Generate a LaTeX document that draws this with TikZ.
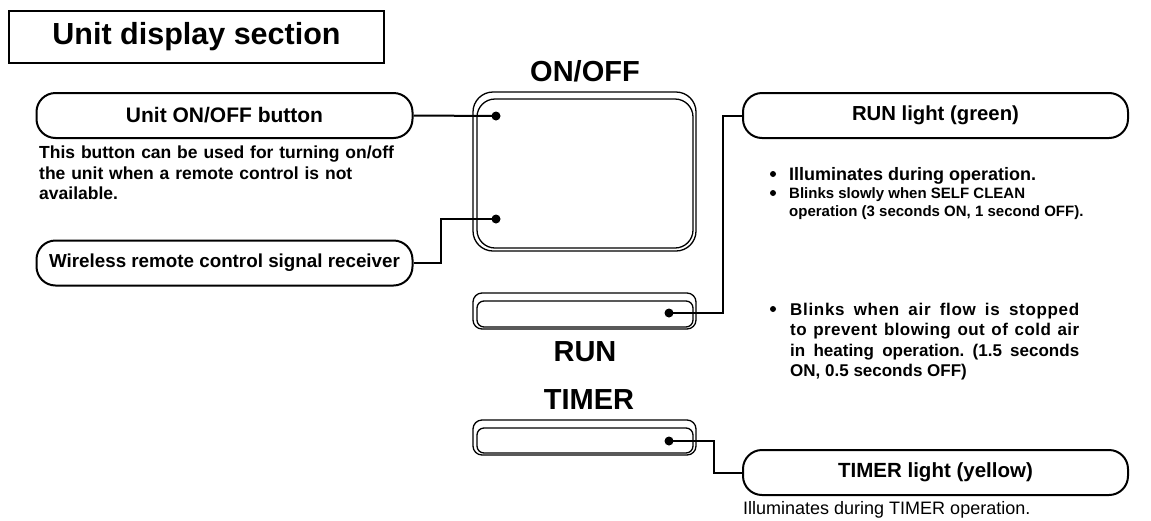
\documentclass[tikz,border=0pt]{standalone}
\usepackage{fontspec}
\setmainfont{Liberation Sans}
\frenchspacing
\begin{document}
\begin{tikzpicture}[x=1pt,y=-1pt,
  titlebox/.style={draw, line width=1.8pt, minimum width=375pt, minimum height=52pt, inner sep=0pt, font=\fontsize{30.5}{34}\selectfont\bfseries},
  pill/.style={draw, line width=2pt, rounded corners=19pt, minimum height=45pt, inner sep=0pt, font=\fontsize{19.5}{22}\selectfont\bfseries},
  panelout/.style={draw, line width=1.3pt, inner sep=0pt},
  panelin/.style={draw, line width=1.3pt, inner sep=0pt},
  paneltext/.style={font=\fontsize{29}{32}\selectfont\bfseries, inner sep=0pt},
  conn/.style={line width=2pt},
  leddot/.style={circle, fill, inner sep=0pt, minimum size=9pt},
  bul/.style={circle, fill, inner sep=0pt, minimum size=6pt},
  desc/.style={font=\fontsize{17.5}{20.5}\selectfont\bfseries, align=left, anchor=north west, inner sep=0pt},
]
\useasboundingbox (0,0) rectangle (1151,520);

% title
\node[titlebox] (title) at (196.5,37) {Unit display section};

% panel labels
\node[paneltext] (lonoff) at (585,71) {ON/OFF};
\node[paneltext] (lrun) at (585,352) {RUN};
\node[paneltext] (ltimer) at (589,400) {TIMER};

% ON/OFF panel (double outline)
\node[panelout, rounded corners=20pt, minimum width=223pt, minimum height=159pt] (panel) at (584.5,171.5) {};
\node[panelin, rounded corners=18pt, minimum width=216pt, minimum height=149pt] (panelinner) at (585,173.5) {};
% RUN bar
\node[panelout, rounded corners=9pt, minimum width=223pt, minimum height=36pt] (runbar) at (584.5,311) {};
\node[panelin, rounded corners=7pt, minimum width=216pt, minimum height=26pt] (runbarin) at (585,314) {};
% TIMER bar
\node[panelout, rounded corners=9pt, minimum width=223pt, minimum height=35pt] (timerbar) at (584.5,437.5) {};
\node[panelin, rounded corners=7pt, minimum width=216pt, minimum height=25pt] (timerbarin) at (585,440.5) {};

% LED dots
\node[leddot] (donoff) at (496,116) {};
\node[leddot] (drecv) at (496,219) {};
\node[leddot] (drun) at (669,313) {};
\node[leddot] (dtimer) at (669,441) {};

% pills
\node[pill, minimum width=376pt, font=\fontsize{21}{22}\selectfont\bfseries] (ponoff) at (224.5,115.5) {Unit ON/OFF button};
\node[pill, minimum width=376pt, font=\fontsize{18.8}{22}\selectfont\bfseries] (precv) at (224.5,263) {Wireless remote control signal receiver};
\node[pill, minimum width=385pt, font=\fontsize{20.3}{22}\selectfont\bfseries] (prun) at (935.5,115.5) {RUN light (green)};
\node[pill, minimum width=385pt, font=\fontsize{20.5}{22}\selectfont\bfseries] (ptimer) at (935.5,472.5) {TIMER light (yellow)};

% connectors
\draw[conn] (donoff.center) -- (ponoff.east);
\draw[conn] (drecv.center) -- (441,219) |- (precv.east);
\draw[conn] (drun.center) -- (723,313) |- (prun.west);
\draw[conn] (dtimer.center) -- (714,441) |- (ptimer.west);

% left description
\node[desc, text width=370pt] (dsc1) at (39,146) {This button can be used for turning on/off\\the unit when a remote control is not\\available.};

% right bullets
\node[bul] (b1) at (773,174) {};
\node[desc, font=\fontsize{18}{21}\selectfont\bfseries] (t1) at (789,167) {Illuminates during operation.};
\node[bul] (b2) at (773,193) {};
\node[desc, font=\fontsize{15}{18}\selectfont\bfseries] (t2) at (789,187.5) {Blinks slowly when SELF CLEAN\\operation (3 seconds ON, 1 second OFF).};
\node[bul] (b3) at (773,309) {};
\node[desc, font=\fontsize{17}{20.5}\selectfont\bfseries] (t3) at (790,302.5) {\makebox[289pt][s]{\addfontfeature{LetterSpace=4}Blinks when air flow is stopped}\\\makebox[289pt][s]{\addfontfeature{LetterSpace=2.5}to prevent blowing out of cold air}\\\makebox[289pt][s]{in heating operation. (1.5 seconds}\\ON, 0.5 seconds OFF)};

% bottom description
\node[font=\fontsize{18}{20}\selectfont, anchor=base west, inner sep=0pt] (dsc2) at (743,514) {Illuminates during TIMER operation.};
\end{tikzpicture}
\end{document}
